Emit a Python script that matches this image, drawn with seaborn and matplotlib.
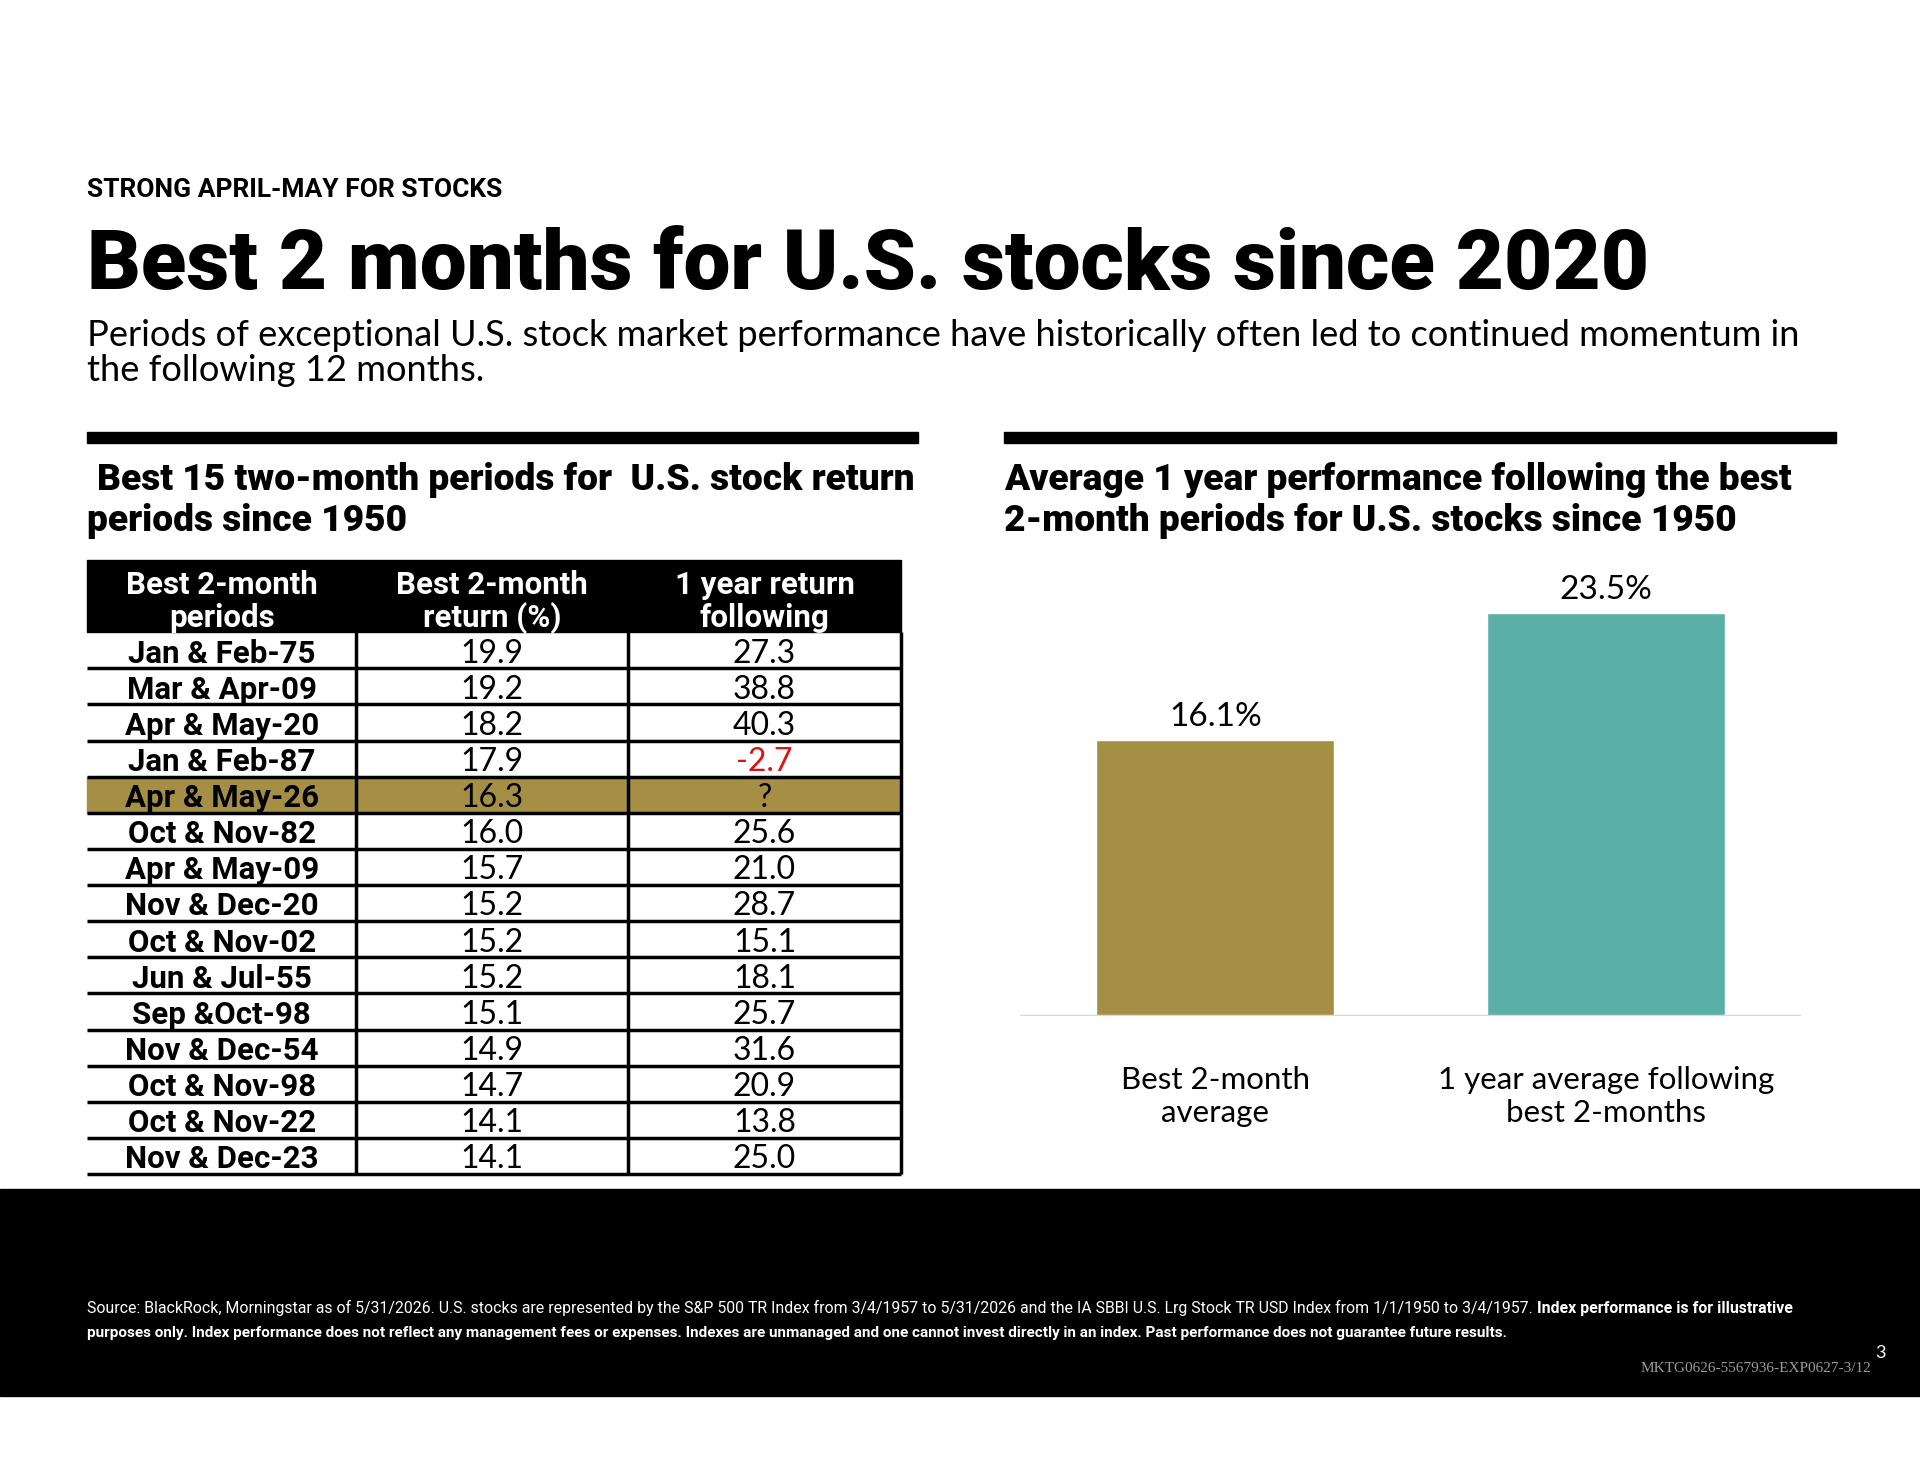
import matplotlib
matplotlib.use("Agg")
import matplotlib.pyplot as plt
from matplotlib.patches import Rectangle
import seaborn as sns

# ---- data ----
kicker = "STRONG APRIL-MAY FOR STOCKS"
title = "Best 2 months for U.S. stocks since 2020"
subtitle = ["Periods of exceptional U.S. stock market performance have historically often led to continued momentum in",
            "the following 12 months."]
left_header = ["Best 15 two-month periods for  U.S. stock return", "periods since 1950"]
right_header = ["Average 1 year performance following the best", "2-month periods for U.S. stocks since 1950"]

table_cols = [["Best 2-month", "periods"], ["Best 2-month", "return (%)"], ["1 year return", "following"]]
periods = ["Jan & Feb-75", "Mar & Apr-09", "Apr & May-20", "Jan & Feb-87", "Apr & May-26",
           "Oct & Nov-82", "Apr & May-09", "Nov & Dec-20", "Oct & Nov-02", "Jun & Jul-55",
           "Sep &Oct-98", "Nov & Dec-54", "Oct & Nov-98", "Oct & Nov-22", "Nov & Dec-23"]
best_2m = [19.9, 19.2, 18.2, 17.9, 16.3, 16.0, 15.7, 15.2, 15.2, 15.2, 15.1, 14.9, 14.7, 14.1, 14.1]
next_1y = [27.3, 38.8, 40.3, -2.7, None, 25.6, 21.0, 28.7, 15.1, 18.1, 25.7, 31.6, 20.9, 13.8, 25.0]
highlight = "Apr & May-26"

bar_cats = ["Best 2-month\naverage", "1 year average following\nbest 2-months"]
bar_vals = [16.1, 23.5]

foot_regular = ("Source: BlackRock, Morningstar as of 5/31/2026. U.S. stocks are represented by the S&P 500 TR Index "
                "from 3/4/1957 to 5/31/2026 and the IA SBBI U.S. Lrg Stock TR USD Index from 1/1/1950 to 3/4/1957. ")
foot_bold1 = "Index performance is for illustrative"
foot_bold2 = ("purposes only. Index performance does not reflect any management fees or expenses. Indexes are "
              "unmanaged and one cannot invest directly in an index. Past performance does not guarantee future results.")
page_no = "3"
doc_code = "MKTG0626-5567936-EXP0627-3/12"

GOLD = "#A58F45"
TEAL = "#5AAFA6"
RED = "#E01010"

sns.set_theme(style="white")
plt.rcParams["font.family"] = ["Lato", "DejaVu Sans"]
plt.rcParams["text.color"] = "black"
plt.rcParams["xtick.color"] = "black"
plt.rcParams["xtick.labelcolor"] = "black"
HEAVY = ["Roboto", "Lato", "DejaVu Sans"]

W, H = 1920, 1484
fig = plt.figure(figsize=(W / 100, H / 100), dpi=100)
fig.patch.set_facecolor("white")
renderer = fig.canvas.get_renderer()


def px(x):
    return x / W


def py(y):
    return 1 - y / H


def fit_text(x, y, s, width, size=20, **kw):
    t = fig.text(px(x), py(y), s, fontsize=size, **kw)
    w = t.get_window_extent(renderer).width
    t.set_fontsize(size * width / w)
    return t


# ---- header texts ----
fit_text(87, 197, kicker, 414, weight="bold", va="baseline", family=HEAVY)
fit_text(87, 289, title, 1560, weight="black", va="baseline", family=HEAVY)
s = fit_text(87, 346, subtitle[0], 1717, weight="normal", va="baseline").get_fontsize()
fig.text(px(87), py(381), subtitle[1], fontsize=s, va="baseline")

# black rules above the two panels
fig.add_artist(Rectangle((px(87), py(443)), px(918 - 87), 11 / H, color="black", transform=fig.transFigure))
fig.add_artist(Rectangle((px(1004), py(443)), px(1836 - 1004), 11 / H, color="black", transform=fig.transFigure))

s = fit_text(97, 490, left_header[0], 817, weight="black", va="baseline", family=HEAVY).get_fontsize()
fig.text(px(87), py(531), left_header[1], fontsize=s, weight="black", va="baseline", family=HEAVY)
fig.text(px(1004), py(490), right_header[0], fontsize=s, weight="black", va="baseline", family=HEAVY)
fig.text(px(1004), py(531), right_header[1], fontsize=s, weight="black", va="baseline", family=HEAVY)

# ---- table ----
tx0, tx1, ty0, ty1 = 87, 901, 560, 1174
ax_t = fig.add_axes([px(tx0), py(ty1), px(tx1 - tx0), (ty1 - ty0) / H])
edges = [0, 220, 442, 665]
n = len(periods)
ax_t.set_xlim(0, edges[-1])
ax_t.set_ylim(n + 2, 0)
ax_t.axis("off")

ax_t.add_patch(Rectangle((0, 0), edges[-1], 2, color="black", clip_on=False))
for j, lines in enumerate(table_cols):
    cx = (edges[j] + edges[j + 1]) / 2
    ax_t.text(cx, 0.93, lines[0], ha="center", va="baseline", color="white", fontsize=22.5, weight="bold",
              family=HEAVY)
    ax_t.text(cx, 1.86, lines[1], ha="center", va="baseline", color="white", fontsize=22.5, weight="bold",
              family=HEAVY)

for i, (p, b, f) in enumerate(zip(periods, best_2m, next_1y)):
    y0 = i + 2
    if p == highlight:
        ax_t.add_patch(Rectangle((0, y0), edges[-1], 1, color=GOLD, clip_on=False))
    cells = [p, f"{b:.1f}", "?" if f is None else f"{f:.1f}"]
    for j, c in enumerate(cells):
        cx = (edges[j] + edges[j + 1]) / 2
        color = RED if (j == 2 and f is not None and f < 0) else "black"
        if j == 0:
            ax_t.text(cx, y0 + 0.84, c, ha="center", va="baseline", color=color, fontsize=22.5,
                      weight="bold", family=HEAVY)
        else:
            ax_t.text(cx, y0 + 0.84, c, ha="center", va="baseline", color=color, fontsize=23,
                      weight="normal")
    ax_t.hlines(y0 + 1, 0, edges[-1], color="black", lw=2.5, clip_on=False)
ax_t.vlines(edges[1:], 2, n + 2, color="black", lw=2.5, clip_on=False)

# ---- bar chart ----
bx0, bx1, base = 1020, 1801, 1016
ymax = 26
top = base - 17.14 * ymax
ax_b = fig.add_axes([px(bx0), py(base), px(bx1 - bx0), (base - top) / H])
sns.barplot(x=bar_cats, y=bar_vals, hue=bar_cats, palette=[GOLD, TEAL], width=0.61,
            legend=False, saturation=1, ax=ax_b)
ax_b.set_xlim(-0.5, 1.5)
ax_b.set_ylim(0, ymax)
for c, v in zip(ax_b.containers, bar_vals):
    ax_b.bar_label(c, labels=[f"{v:.1f}%"], padding=6, fontsize=24, color="black")
ax_b.axhline(0, color="#D9D9D9", lw=2.5)
for sp in ax_b.spines.values():
    sp.set_visible(False)
ax_b.set_yticks([])
ax_b.set_ylabel("")
ax_b.tick_params(axis="x", length=0, pad=36, labelsize=22.5, labelcolor="black")
ax_b.patch.set_alpha(0)

# ---- footer ----
fig.add_artist(Rectangle((0, py(1396)), 1, (1396 - 1189) / H, color="black", transform=fig.transFigure))
foot_font = ["Roboto", "DejaVu Sans"]
t1 = fig.text(px(87), py(1313), foot_regular, fontsize=12, color="white", family=foot_font, va="baseline")
t2 = fig.text(px(87), py(1313), foot_bold1, fontsize=12, color="white", family=foot_font, weight="bold",
              va="baseline")
w1 = t1.get_window_extent(renderer).width
w2 = t2.get_window_extent(renderer).width
fs = 12 * 1697 / (w1 + w2)
t1.set_fontsize(fs)
t2.set_fontsize(fs)
t2.set_x(px(87 + t1.get_window_extent(renderer).width))
fit_text(87, 1337, foot_bold2, 1420, size=fs, color="white", family=foot_font, weight="bold", va="baseline")
fig.text(px(1880), py(1353), page_no, fontsize=13, color="white", ha="center", va="center")
fig.text(px(1871), py(1369), doc_code, fontsize=11, color="#9A9A9A", ha="right", va="center",
         family=["Liberation Serif", "DejaVu Serif"])

fig.savefig("out.png", dpi=100)
